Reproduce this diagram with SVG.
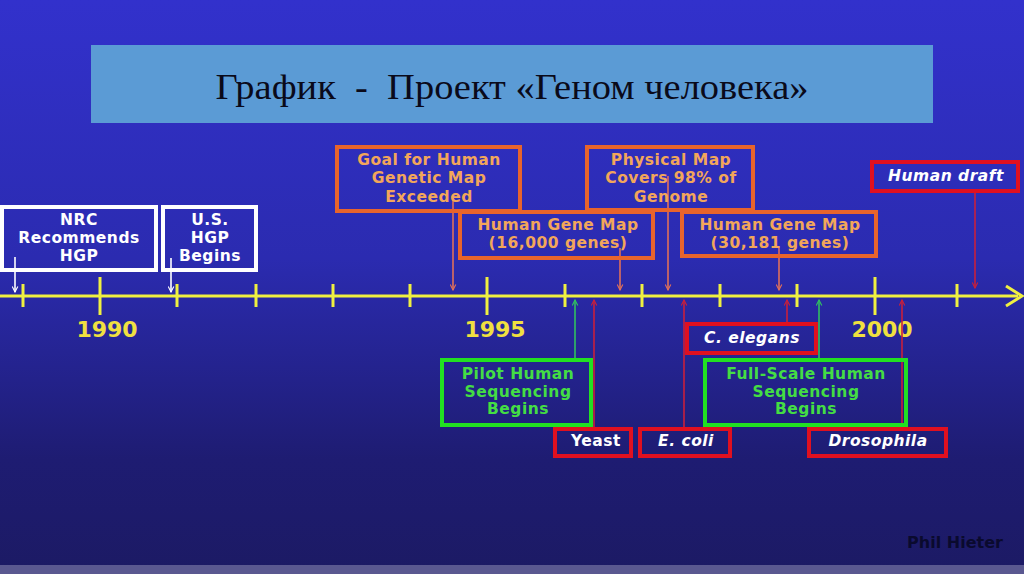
<svg xmlns="http://www.w3.org/2000/svg" width="1024" height="574" viewBox="0 0 1024 574">
<defs>
<linearGradient id="bg" x1="0" y1="0" x2="0" y2="1">
<stop offset="0" stop-color="#3231cc"/>
<stop offset="0.45" stop-color="#2b2bb0"/>
<stop offset="0.8" stop-color="#1e1c72"/>
<stop offset="1" stop-color="#1c1a64"/>
</linearGradient>
<marker id="aw" viewBox="0 0 10 10" refX="9" refY="5" markerWidth="7" markerHeight="7" orient="auto" markerUnits="userSpaceOnUse"><path d="M1,1 L9,5 L1,9" fill="none" stroke="#ffffff" stroke-width="1.6"/></marker>
<marker id="ao" viewBox="0 0 10 10" refX="9" refY="5" markerWidth="7" markerHeight="7" orient="auto" markerUnits="userSpaceOnUse"><path d="M1,1 L9,5 L1,9" fill="none" stroke="#e0705a" stroke-width="1.6"/></marker>
<marker id="ar" viewBox="0 0 10 10" refX="9" refY="5" markerWidth="7" markerHeight="7" orient="auto" markerUnits="userSpaceOnUse"><path d="M1,1 L9,5 L1,9" fill="none" stroke="#c8203c" stroke-width="1.6"/></marker>
<marker id="ag" viewBox="0 0 10 10" refX="9" refY="5" markerWidth="7" markerHeight="7" orient="auto" markerUnits="userSpaceOnUse"><path d="M1,1 L9,5 L1,9" fill="none" stroke="#30c060" stroke-width="1.6"/></marker>
</defs>
<style>
.t{font-family:"DejaVu Sans",Verdana,sans-serif;font-weight:bold;text-anchor:middle;font-size:15.5px;letter-spacing:0.5px}
.wb{fill:none;stroke:#ffffff;stroke-width:4}
.ob{fill:none;stroke:#e8642c;stroke-width:4}
.rb{fill:none;stroke:#e01020;stroke-width:4}
.gb{fill:none;stroke:#22e022;stroke-width:4}
.wt{fill:#ffffff}
.ot{fill:#f2a65a}
.gt{fill:#44dd44}
.it{font-style:italic}
.yr{font-family:"DejaVu Sans",Verdana,sans-serif;font-weight:bold;font-size:22px;fill:#f0e040;text-anchor:middle}
.tk{stroke:#f0f040;stroke-width:3}
.cw{stroke:#ffffff;stroke-width:1.6;fill:none;marker-end:url(#aw)}
.co{stroke:#e0705a;stroke-width:1.6;fill:none;marker-end:url(#ao)}
.cr{stroke:#c8203c;stroke-width:1.6;fill:none;marker-end:url(#ar)}
.cg{stroke:#30c060;stroke-width:1.6;fill:none;marker-end:url(#ag)}
</style>
<rect x="0" y="0" width="1024" height="574" fill="url(#bg)"/>
<rect x="0" y="565" width="1024" height="9" fill="#5a5890"/>
<g id="title">
<rect x="91" y="45" width="842" height="78" fill="#5b9bd5"/>
<text x="512" y="99" xml:space="preserve" font-family="Liberation Serif,'Times New Roman',serif" font-size="36" fill="#0a0a1a" text-anchor="middle" textLength="593" lengthAdjust="spacingAndGlyphs">График  -  Проект «Геном человека»</text>
</g>
<g id="timeline">
<line x1="0" y1="296" x2="1018" y2="296" stroke="#f0f040" stroke-width="3"/>
<path d="M1006,286 L1022,296 L1006,306" fill="none" stroke="#f0f040" stroke-width="3"/>
<line class="tk" x1="23" y1="284" x2="23" y2="307"/>
<line class="tk" x1="100" y1="277" x2="100" y2="315"/>
<line class="tk" x1="177" y1="284" x2="177" y2="307"/>
<line class="tk" x1="256" y1="284" x2="256" y2="307"/>
<line class="tk" x1="333" y1="284" x2="333" y2="307"/>
<line class="tk" x1="410" y1="284" x2="410" y2="307"/>
<line class="tk" x1="487" y1="277" x2="487" y2="315"/>
<line class="tk" x1="565" y1="284" x2="565" y2="307"/>
<line class="tk" x1="642" y1="284" x2="642" y2="307"/>
<line class="tk" x1="720" y1="284" x2="720" y2="307"/>
<line class="tk" x1="797" y1="284" x2="797" y2="307"/>
<line class="tk" x1="875" y1="277" x2="875" y2="315"/>
<line class="tk" x1="957" y1="284" x2="957" y2="307"/>
<text class="yr" x="107" y="337">1990</text>
<text class="yr" x="495" y="337">1995</text>
<text class="yr" x="882" y="337">2000</text>
</g>
<g id="connectors">
<line class="cw" x1="15" y1="257" x2="15" y2="292"/>
<line class="cw" x1="171" y1="258" x2="171" y2="292"/>
<line class="co" x1="453" y1="200" x2="453" y2="290"/>
<line class="co" x1="620" y1="248" x2="620" y2="290"/>
<line class="co" x1="668" y1="176" x2="668" y2="290"/>
<line class="co" x1="779" y1="248" x2="779" y2="290"/>
<line class="cr" x1="975" y1="193" x2="975" y2="288"/>
<line class="cg" x1="575" y1="358" x2="575" y2="300"/>
<line class="cr" x1="594" y1="427" x2="594" y2="300"/>
<line class="cr" x1="684" y1="427" x2="684" y2="300"/>
<line class="cr" x1="787" y1="322" x2="787" y2="300"/>
<line class="cg" x1="819" y1="358" x2="819" y2="300"/>
<line class="cr" x1="902" y1="427" x2="902" y2="300"/>
</g>
<g id="nrc">
<rect class="wb" x="2" y="207" width="154" height="63"/>
<text class="t wt" x="79" y="225">NRC</text>
<text class="t wt" x="79" y="243">Recommends</text>
<text class="t wt" x="79" y="261">HGP</text>
</g>
<g id="ushgp">
<rect class="wb" x="163" y="207" width="93" height="63"/>
<text class="t wt" x="210" y="225">U.S.</text>
<text class="t wt" x="210" y="243">HGP</text>
<text class="t wt" x="210" y="261">Begins</text>
</g>
<g id="goal">
<rect class="ob" x="337" y="147" width="183" height="64"/>
<text class="t ot" x="429" y="165">Goal for Human</text>
<text class="t ot" x="429" y="183">Genetic Map</text>
<text class="t ot" x="429" y="202">Exceeded</text>
</g>
<g id="hgm16">
<rect class="ob" x="460" y="212" width="193" height="46"/>
<text class="t ot" x="558" y="230">Human Gene Map</text>
<text class="t ot" x="558" y="248">(16,000 genes)</text>
</g>
<g id="physmap">
<rect class="ob" x="587" y="147" width="166" height="63"/>
<text class="t ot" x="671" y="165">Physical Map</text>
<text class="t ot" x="671" y="183">Covers 98% of</text>
<text class="t ot" x="671" y="202">Genome</text>
</g>
<g id="hgm30">
<rect class="ob" x="682" y="212" width="194" height="44"/>
<text class="t ot" x="780" y="230">Human Gene Map</text>
<text class="t ot" x="780" y="248">(30,181 genes)</text>
</g>
<g id="draft">
<rect class="rb" x="872" y="162" width="146" height="29"/>
<text class="t wt it" x="946" y="181">Human draft</text>
</g>
<g id="pilot">
<rect class="gb" x="442" y="360" width="149" height="65"/>
<text class="t gt" x="518" y="379">Pilot Human</text>
<text class="t gt" x="518" y="397">Sequencing</text>
<text class="t gt" x="518" y="414">Begins</text>
</g>
<g id="yeast">
<rect class="rb" x="555" y="429" width="76" height="27"/>
<text class="t wt" x="596" y="446">Yeast</text>
</g>
<g id="ecoli">
<rect class="rb" x="640" y="429" width="90" height="27"/>
<text class="t wt it" x="686" y="446">E. coli</text>
</g>
<g id="celegans">
<rect class="rb" x="687" y="324" width="129" height="29"/>
<text class="t wt it" x="752" y="343">C. elegans</text>
</g>
<g id="fullscale">
<rect class="gb" x="705" y="360" width="201" height="65"/>
<text class="t gt" x="806" y="379">Full-Scale Human</text>
<text class="t gt" x="806" y="397">Sequencing</text>
<text class="t gt" x="806" y="414">Begins</text>
</g>
<g id="drosophila">
<rect class="rb" x="809" y="429" width="137" height="27"/>
<text class="t wt it" x="878" y="446">Drosophila</text>
</g>
<text x="955" y="548" font-family="DejaVu Sans,Verdana,sans-serif" font-weight="bold" font-size="16" fill="#0a0a2e" text-anchor="middle">Phil Hieter</text>
</svg>
